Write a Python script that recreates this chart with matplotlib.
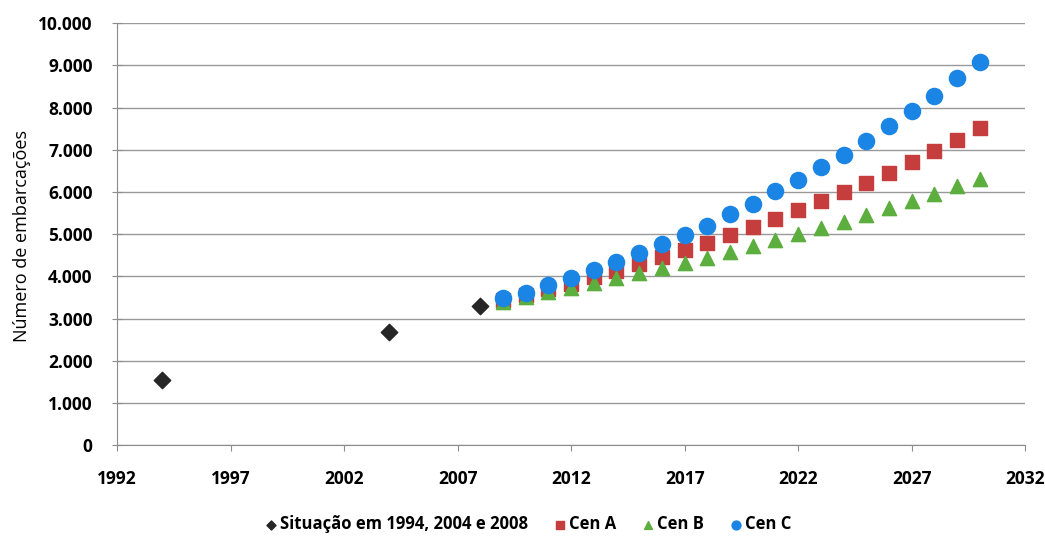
import matplotlib
matplotlib.use('Agg')
from matplotlib import pyplot as plt
from matplotlib.ticker import FuncFormatter

# Data
hist_years = [1994, 2004, 2008]
hist_vals = [1540, 2680, 3300]

years = list(range(2009, 2031))
cen_a = [3430, 3550, 3700, 3830, 3980, 4120, 4290, 4460, 4620, 4800, 4980,
         5160, 5360, 5560, 5780, 5990, 6220, 6460, 6700, 6970, 7240, 7510]
cen_b = [3400, 3520, 3630, 3730, 3840, 3960, 4070, 4190, 4310, 4440, 4580,
         4710, 4850, 5000, 5140, 5290, 5450, 5610, 5780, 5960, 6130, 6310]
cen_c = [3480, 3600, 3790, 3960, 4150, 4340, 4550, 4760, 4980, 5190, 5470,
         5710, 6020, 6280, 6590, 6870, 7200, 7560, 7910, 8270, 8700, 9080]

plt.rcParams['font.family'] = ['Open Sans', 'DejaVu Sans']

fig = plt.figure(figsize=(10.45, 5.37), dpi=100)
ax = fig.add_axes([0.112, 0.171, 0.869, 0.786])

ax.scatter(hist_years, hist_vals, marker='D', s=70, color='#262626',
           label='Situação em 1994, 2004 e 2008', zorder=3)
ax.scatter(years, cen_a, marker='s', s=115, color='#c53d3c', label='Cen A', zorder=3)
ax.scatter(years, cen_b, marker='^', s=105, color='#5cae3e', label='Cen B', zorder=3)
ax.scatter(years, cen_c, marker='o', s=135, color='#1a85e4', label='Cen C', zorder=4)

ax.set_xlim(1992, 2032)
ax.set_ylim(0, 10000)
ax.set_xticks(range(1992, 2033, 5))
ax.set_yticks(range(0, 10001, 1000))
ax.yaxis.set_major_formatter(FuncFormatter(lambda v, p: f'{int(v):,}'.replace(',', '.')))

# horizontal grid only, grey axis lines
ax.grid(axis='y', color='#999999', linewidth=1)
ax.set_axisbelow(True)
for side in ['top', 'right']:
    ax.spines[side].set_visible(False)
for side in ['left', 'bottom']:
    ax.spines[side].set_color('#8c8c8c')
ax.tick_params(axis='y', direction='inout', length=7, color='#8c8c8c',
               labelsize=12.5, pad=14)
ax.tick_params(axis='x', direction='out', length=4, color='#8c8c8c',
               labelsize=12.5, pad=14)
for lbl in ax.get_xticklabels() + ax.get_yticklabels():
    lbl.set_fontweight('bold')

fig.text(22 / 1045, 1 - 236 / 537, 'Número de embarcações', rotation=90,
         ha='center', va='center', fontsize=13)

fig.legend(loc='center', bbox_to_anchor=(527 / 1045, 1 - 524 / 537), ncol=4,
           frameon=False, prop={'size': 12, 'weight': 'bold'},
           handletextpad=0.05, handlelength=1.0, columnspacing=1.4,
           markerscale=0.55)

fig.savefig('out.png', dpi=100)
